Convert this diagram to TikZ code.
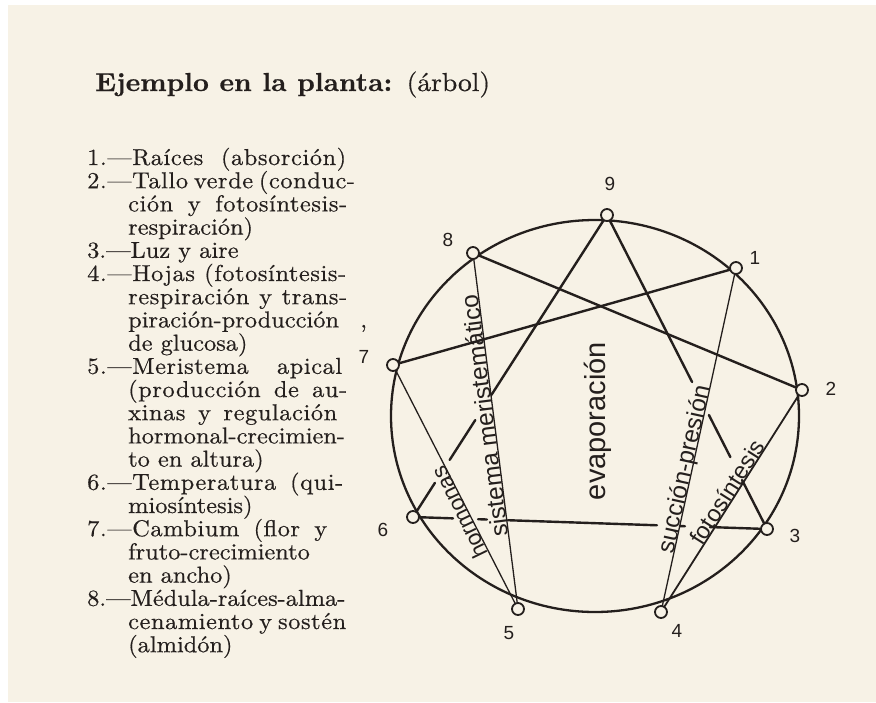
\documentclass[tikz,border=0pt]{standalone}
\usepackage{fontspec}
\setmainfont{lmroman10}[Extension=.otf, UprightFont=*-regular, BoldFont=*-bold, ItalicFont=*-italic, FakeStretch=1.06, FakeBold=0.5]
\newfontfamily\hand{Liberation Sans}
\usetikzlibrary{calc}
\definecolor{paper}{RGB}{247,242,230}
\definecolor{ink}{RGB}{36,31,29}
\tikzset{
  li/.style={anchor=base west, inner sep=0pt, text=ink, font=\fontsize{23}{24}\selectfont},
  mk/.style={circle, draw=ink, fill=paper, line width=1.8pt, minimum size=12pt, inner sep=0pt},
  num/.style={text=ink, inner sep=0pt, font=\hand\fontsize{19}{19}\selectfont},
  hw/.style={text=ink, inner sep=0pt, anchor=base, font=\hand\fontsize{24.5}{25}\selectfont},
  ringline/.style={draw=ink, line width=2.3pt},
  thk/.style={draw=ink, line width=2.4pt, line cap=round},
  mid/.style={draw=ink, line width=1.8pt, line cap=round},
  thn/.style={draw=ink, line width=1.3pt, line cap=round}
}
\newcommand{\jl}[2]{\makebox[#1][s]{\addfontfeature{LetterSpace=2.5}#2}}
\begin{document}
\begin{tikzpicture}[x=1pt,y=-1pt]
\useasboundingbox (0,0) rectangle (876,702);
\fill[white] (0,0) rectangle (876,702);
\fill[paper] (8,5) rectangle (876,702);

% title
\node[anchor=base west, inner sep=0pt, text=ink, font=\fontsize{26}{27}\selectfont] (title) at (95,91)
  {\makebox[395pt][s]{\bfseries Ejemplo en la planta: \mdseries(árbol)}};

% list
\node[li] (l1)  at (87,165)   {\jl{259pt}{1.—Raíces (absorción)}};
\node[li] (l2)  at (87,188.2) {\jl{256pt}{2.—Tallo verde (conduc-}};
\node[li] (l3)  at (128,211.4) {\jl{219pt}{ción y fotosíntesis-}};
\node[li] (l4)  at (128,234.6) {respiración)};
\node[li] (l5)  at (87,257.8) {3.—Luz y aire};
\node[li] (l6)  at (87,281) {\jl{259pt}{4.—Hojas (fotosíntesis-}};
\node[li] (l7)  at (128,304.2) {\jl{219pt}{respiración y trans-}};
\node[li] (l8)  at (128,327.4) {piración-producción};
\node[li] (l8c) at (360,327.4) {,};
\node[li] (l9)  at (128,350.6) {de glucosa)};
\node[li] (l10) at (87,373.8) {\jl{255pt}{5.—Meristema apical}};
\node[li] (l11) at (128,397)  {\jl{219pt}{(producción de au-}};
\node[li] (l12) at (128,420.2) {\jl{209pt}{xinas y regulación}};
\node[li] (l13) at (128,443.4) {hormonal-crecimien-};
\node[li] (l14) at (128,466.6) {to en altura)};
\node[li] (l15) at (87,489.8) {\jl{256pt}{6.—Temperatura (qui-}};
\node[li] (l16) at (128,513) {miosíntesis)};
\node[li] (l17) at (87,536.2) {\jl{240pt}{7.—Cambium (flor y}};
\node[li] (l18) at (128,559.4) {fruto-crecimiento};
\node[li] (l19) at (128,582.6) {en ancho)};
\node[li] (l20) at (87,605.8) {8.—Médula-raíces-alma-};
\node[li] (l21) at (128,629)  {\jl{218pt}{cenamiento y sostén}};
\node[li] (l22) at (128,652.2) {(almidón)};

% ring
\draw[ringline] (595,416) ellipse [x radius=204, y radius=196];

% marker positions
\coordinate (p9) at (607,215);
\coordinate (p1) at (736,268);
\coordinate (p2) at (802,390);
\coordinate (p3) at (767,529);
\coordinate (p4) at (661,612);
\coordinate (p5) at (518,609);
\coordinate (p6) at (413,517);
\coordinate (p7) at (393,365);
\coordinate (p8) at (473,253);

% hexad lines
\draw[thk] (p2) -- (p8);
\draw[thk] (p7) -- (p1);
\draw[thn] (p8) -- (p5);
\draw[thn] (p5) -- (p7);
\draw[thn] (p1) -- (p4);
\draw[mid] (p4) -- (p2);

% triangle with gaps
\draw[thk] (p9) -- ($(p9)!0.596!(p6)$);
\draw[thk] ($(p9)!0.679!(p6)$) -- ($(p9)!0.811!(p6)$);
\draw[thk] ($(p9)!0.887!(p6)$) -- (p6);
\draw[thk] (p9) -- ($(p9)!0.532!(p3)$);
\draw[thk] ($(p9)!0.637!(p3)$) -- ($(p9)!0.771!(p3)$);
\draw[thk] ($(p9)!0.844!(p3)$) -- (p3);
\draw[thk] (p6) -- ($(p6)!0.113!(p3)$);
\draw[thk] ($(p6)!0.184!(p3)$) -- ($(p6)!0.209!(p3)$);
\draw[thk] ($(p6)!0.268!(p3)$) -- ($(p6)!0.689!(p3)$);
\draw[thk] ($(p6)!0.754!(p3)$) -- ($(p6)!0.768!(p3)$);
\draw[thk] ($(p6)!0.839!(p3)$) -- (p3);

% marker circles
\foreach \k in {1,...,9} { \node[mk] (n\k) at (p\k) {}; }

% numbers
\node[num] (t9) at (610,184) {9};
\node[num] (t8) at (448,240) {8};
\node[num] (t1) at (755,258) {1};
\node[num] (t2) at (831,389) {2};
\node[num] (t3) at (795,536) {3};
\node[num] (t4) at (677,631) {4};
\node[num] (t5) at (509,633) {5};
\node[num] (t6) at (383,530) {6};
\node[num] (t7) at (364,357) {7};

% handwritten labels
\node[hw, anchor=center, rotate=90, font=\hand\fontsize{29}{30}\selectfont] (ev) at (598,421) {evaporación};
\node[hw, rotate=97.2] (sm) at ($(p8)!0.455!(p5)$) {sistema meristemático};
\node[hw, rotate=116, font=\hand\fontsize{22.5}{23}\selectfont] (ho) at ($(p7)!0.59!(p5)$) {hormonas};
\node[hw, rotate=77.7] (sp) at ($(p1)!0.59!(p4)$) {succión-presión};
\node[hw, rotate=57.6, font=\hand\fontsize{23.5}{24}\selectfont] (fo) at ($(p4)!0.52!(p2)$) {fotosíntesis};
\end{tikzpicture}
\end{document}
